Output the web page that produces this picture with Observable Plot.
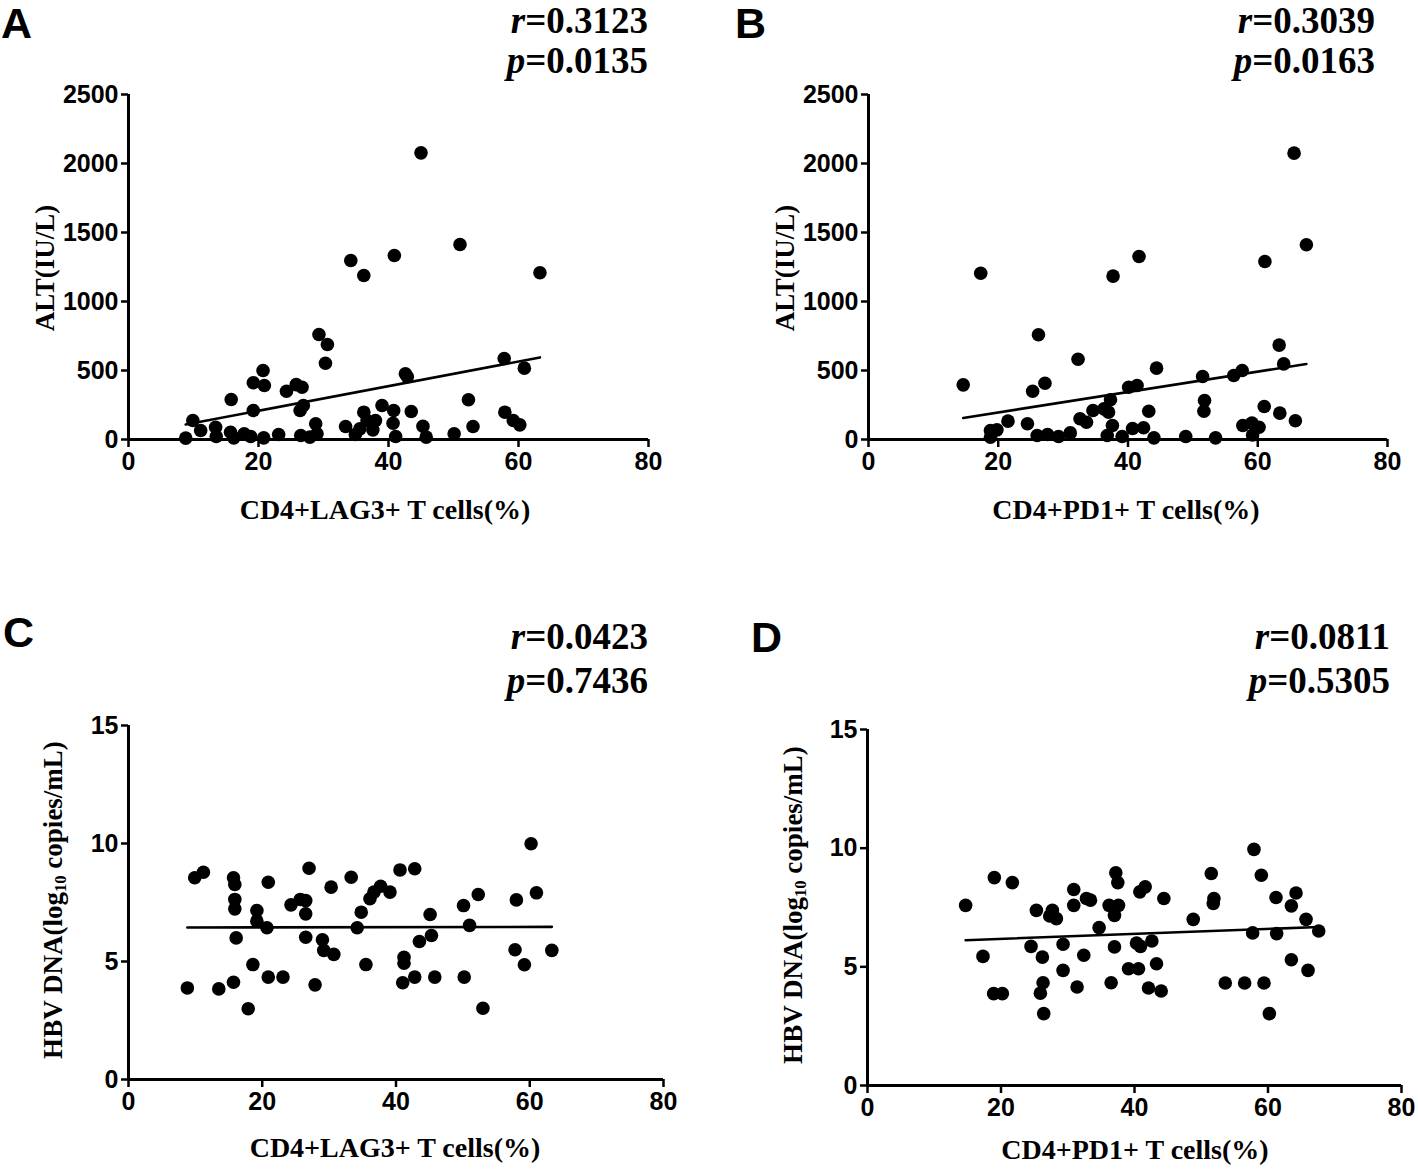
<!DOCTYPE html>
<html>
<head>
<meta charset="utf-8">
<script src="https://cdn.jsdelivr.net/npm/d3@7"></script>
<script src="https://cdn.jsdelivr.net/npm/@observablehq/plot@0.6"></script>
<style>
  body { margin: 0; background: #fff; }
  #root { position: relative; width: 1418px; height: 1173px; overflow: hidden; background: #fff; }
  .pane { position: absolute; }
  .letter { position: absolute; font-family: "Liberation Sans", Arial, sans-serif; font-weight: bold; font-size: 43px; line-height: 1.1; color: #000; }
  .stat { position: absolute; font-family: "Liberation Serif", "Times New Roman", serif; font-weight: bold; font-size: 37px; line-height: 1; text-align: right; white-space: nowrap; color: #000; }
  .xt { position: absolute; font-family: "Liberation Serif", "Times New Roman", serif; font-weight: bold; font-size: 28px; line-height: 1; white-space: nowrap; transform: translateX(-50%); color: #000; }
  .yt { position: absolute; font-family: "Liberation Serif", "Times New Roman", serif; font-weight: bold; font-size: 27px; line-height: 1; white-space: nowrap; transform: translate(-50%, -50%) rotate(-90deg); color: #000; }
  .yt sub { font-size: 0.62em; vertical-align: -0.25em; }
</style>
</head>
<body>
<div id="root"></div>
<script>
// ---------- data ----------
const xTicks = [0, 20, 40, 60, 80];
const altTicks = [0, 500, 1000, 1500, 2000, 2500];
const hbvTicks = [0, 5, 10, 15];

// Panel A: CD4+LAG3+ T cells (%) vs ALT (IU/L)
const aLag3 = [34.2,36.2,40.9,29.3,30.6,30.3,20.7,19.2,20.9,15.8,24.3,25.8,26.7,19.2,26.9,26.4,9.9,11.1,8.8,13.4,13.5,15.7,16.2,17.8,18.8,20.8,23.1,26.5,27.9,29.0,28.8,33.4,34.9,35.6,36.2,36.7,38.0,37.6,39.0,40.8,40.7,41.1,42.6,42.9,45.0,51.0,63.3,57.8,60.9,43.5,45.3,45.8,50.1,52.3,53.0,57.9,59.2,60.2];
const aALT  = [1297,1188,1333,761,688,553,500,411,391,290,350,398,379,210,246,210,138,65,10,89,22,53,12,41,22,12,36,29,17,41,114,94,36,77,198,138,138,70,246,210,118,22,476,455,2077,1413,1208,587,517,203,96,17,41,288,94,198,138,106];

// Panel B: CD4+PD1+ T cells (%) vs ALT (IU/L)
const bPd1 = [17.3,37.7,41.7,26.2,32.3,14.6,25.3,27.2,21.5,24.5,18.8,19.8,18.8,26.0,27.6,29.3,31.1,32.6,33.6,34.6,36.3,37.3,37.0,37.6,36.8,39.1,40.7,40.1,41.4,42.4,43.2,44.0,44.4,48.9,51.5,51.8,51.7,53.5,56.3,57.6,57.7,59.1,60.2,59.2,61.0,63.3,64.0,63.4,65.8,65.6,67.5,61.1];
const bALT = [1205,1184,1326,759,582,396,350,408,133,114,65,70,17,29,36,22,48,150,125,210,222,288,198,101,29,22,80,379,391,85,205,12,517,22,457,283,205,12,464,500,101,120,89,33,239,684,548,191,136,2075,1411,1290];

// Panel C: CD4+LAG3+ T cells (%) vs HBV DNA (log10 copies/mL)
const cLag3 = [9.9,11.2,15.7,15.9,15.9,15.9,20.9,19.2,19.2,20.7,16.1,24.3,25.7,26.5,26.5,27.0,30.3,26.5,29.0,29.2,30.7,33.3,34.2,34.8,36.1,36.7,37.7,39.1,35.5,18.6,20.9,23.1,15.7,13.5,8.8,17.9,27.9,40.6,42.8,45.1,50.1,52.3,58.0,61.0,60.2,51.0,45.3,43.5,41.2,41.2,41.0,42.8,45.8,50.2,53.0,57.8,59.2,63.3];
const cHBV  = [8.55,8.78,8.55,8.26,7.63,7.23,8.36,7.16,6.71,6.43,6.0,7.4,7.63,7.58,7.02,8.95,8.15,6.03,5.92,5.47,5.3,8.57,6.43,7.09,7.66,7.94,8.19,7.94,4.87,4.87,4.34,4.34,4.12,3.84,3.88,3.0,4.01,8.88,8.93,6.99,7.37,7.84,7.61,7.91,9.99,6.53,6.1,5.85,5.18,4.93,4.1,4.34,4.34,4.34,3.02,5.5,4.86,5.47];

// Panel D: CD4+PD1+ T cells (%) vs HBV DNA (log10 copies/mL)
const dPd1 = [14.7,19.0,21.7,17.3,18.9,20.2,25.3,27.7,27.3,28.3,24.5,26.2,26.3,25.9,26.4,29.3,29.3,31.4,32.4,30.9,30.9,32.8,33.4,34.7,37.2,37.5,36.2,37.6,37.0,37.0,36.5,39.1,40.8,41.6,40.3,40.9,40.6,42.6,43.3,42.1,44.0,44.4,48.8,51.5,51.9,51.8,57.9,59.0,61.2,64.2,63.5,65.7,67.6,57.7,61.3,63.5,66.0,53.6,56.5,59.4,60.2];
const dHBV = [7.59,8.76,8.55,5.44,3.87,3.87,7.38,7.38,7.14,7.03,5.86,5.41,4.33,3.89,3.03,5.95,4.85,4.15,5.49,8.26,7.59,7.88,7.81,6.65,8.96,8.55,7.59,7.59,7.17,5.84,4.33,4.92,8.16,8.37,6.0,5.86,4.92,6.09,5.13,4.11,3.98,7.88,7.0,8.93,7.88,7.67,9.95,8.86,7.92,8.11,7.57,7.0,6.51,6.43,6.4,5.3,4.85,4.32,4.32,4.32,3.03];

const panelLetters = ["A", "B", "C", "D"];
const rValues = ["0.3123", "0.3039", "0.0423", "0.0811"];
const pValues = ["0.0135", "0.0163", "0.7436", "0.5305"];
const xTitles = ["CD4+LAG3+ T cells(%)", "CD4+PD1+ T cells(%)", "CD4+LAG3+ T cells(%)", "CD4+PD1+ T cells(%)"];

// ---------- drawing ----------
const root = document.getElementById("root");
const plainNumber = d3.format("d");

function panel(xs, ys, yDomain, yTicks, geom) {
  const data = xs.map((x, i) => ({x, y: ys[i]}));
  const svg = Plot.plot({
    width: geom.w, height: geom.h,
    marginLeft: 128, marginRight: geom.mr, marginTop: geom.mt, marginBottom: geom.mb,
    x: {domain: [0, 80]},
    y: {domain: yDomain},
    style: {fontFamily: "'Liberation Sans', Arial, sans-serif", fontSize: "25px", fontWeight: "bold", color: "#000", background: "transparent", overflow: "visible"},
    marks: [
      Plot.axisX({ticks: xTicks, tickFormat: plainNumber, tickSize: 8, tickPadding: 5, strokeWidth: 2.5, label: null, fontSize: 25, fontWeight: "bold"}),
      Plot.axisY({ticks: yTicks, tickFormat: plainNumber, tickSize: 7, tickPadding: 3, strokeWidth: 2.5, label: null, fontSize: 25, fontWeight: "bold"}),
      Plot.ruleY([0], {stroke: "#000", strokeWidth: 3}),
      Plot.ruleX([0], {stroke: "#000", strokeWidth: 3}),
      Plot.linearRegressionY(data, {x: "x", y: "y", ci: 0, stroke: "#000", strokeWidth: 2.6}),
      Plot.dot(data, {x: "x", y: "y", r: 6.8, fill: "#000", stroke: "none"})
    ]
  });
  const div = document.createElement("div");
  div.className = "pane";
  div.style.left = geom.left + "px";
  div.style.top = geom.top + "px";
  div.appendChild(svg);
  root.appendChild(div);
}

panel(aLag3, aALT, [0, 2500], altTicks, {left: 0, top: 0, w: 700, h: 560, mr: 52, mt: 94, mb: 121});
panel(bPd1, bALT, [0, 2500], altTicks, {left: 740, top: 0, w: 678, h: 560, mr: 31, mt: 94, mb: 121});
panel(cLag3, cHBV, [0, 15], hbvTicks, {left: 0, top: 600, w: 700, h: 573, mr: 37, mt: 125, mb: 94});
panel(dPd1, dHBV, [0, 15], hbvTicks, {left: 739, top: 600, w: 679, h: 573, mr: 17, mt: 129, mb: 88});

function addText(cls, html, css) {
  const d = document.createElement("div");
  d.className = cls;
  d.innerHTML = html;
  Object.assign(d.style, css);
  root.appendChild(d);
}

// panel letters
addText("letter", panelLetters[0], {left: "1px", top: "0px"});
addText("letter", panelLetters[1], {left: "735px", top: "0px"});
addText("letter", panelLetters[2], {left: "3px", top: "609px"});
addText("letter", panelLetters[3], {left: "751px", top: "614px"});

// statistics
const statPos = [
  {right: 770, rTop: 2, pTop: 42},
  {right: 43, rTop: 2, pTop: 42},
  {right: 770, rTop: 618, pTop: 662},
  {right: 28, rTop: 618, pTop: 662}
];
statPos.forEach((s, i) => {
  addText("stat", "<i>r</i>=" + rValues[i], {right: s.right + "px", top: s.rTop + "px"});
  addText("stat", "<i>p</i>=" + pValues[i], {right: s.right + "px", top: s.pTop + "px"});
});

// axis titles
addText("xt", xTitles[0], {left: "385px", top: "496px"});
addText("xt", xTitles[1], {left: "1126px", top: "496px"});
addText("xt", xTitles[2], {left: "395px", top: "1134px"});
addText("xt", xTitles[3], {left: "1135px", top: "1136px"});

addText("yt", "ALT(IU/L)", {left: "45px", top: "268px"});
addText("yt", "ALT(IU/L)", {left: "785px", top: "268px"});
addText("yt", "HBV DNA(log<sub>10</sub> copies/mL)", {left: "55px", top: "900px"});
addText("yt", "HBV DNA(log<sub>10</sub> copies/mL)", {left: "795px", top: "905px"});
</script>
</body>
</html>
